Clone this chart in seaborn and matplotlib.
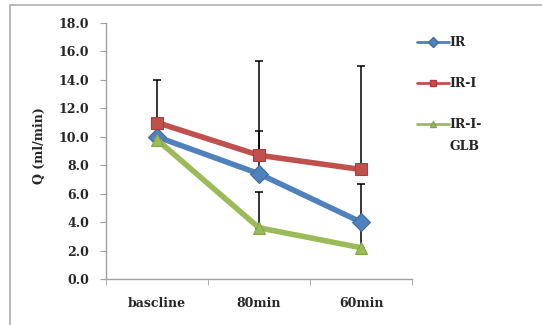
import matplotlib
matplotlib.use('Agg')
import matplotlib.pyplot as plt
from matplotlib.lines import Line2D
from matplotlib.patches import Rectangle
import numpy as np
import pandas as pd
import seaborn as sns

# values
times = ['bascline', '80min', '60min']
groups = ['IR', 'IR-I', 'IR-I-GLB']
ir_vals = [10.0, 7.4, 4.0]
iri_vals = [11.0, 8.7, 7.7]
glb_vals = [9.8, 3.6, 2.2]
ir_err = [0.8, 3.0, 2.7]
iri_err = [3.0, 6.6, 7.3]
glb_err = [0.5, 2.5, 1.8]
legend_labels = ['IR', 'IR-I', 'IR-I-']

colors = {'IR': '#4F81BD', 'IR-I': '#C0504D', 'IR-I-GLB': '#9BBB59'}
edges = {'IR': '#3f6da3', 'IR-I': '#a8403d', 'IR-I-GLB': '#86a646'}
markers = {'IR': 'D', 'IR-I': 's', 'IR-I-GLB': '^'}

df = pd.DataFrame({
    'time': times * 3,
    'group': [g for g in groups for _ in times],
    'Q': ir_vals + iri_vals + glb_vals,
    'err': ir_err + iri_err + glb_err,
})

sns.set_style('white')
plt.rcParams['font.family'] = ['DejaVu Serif']
plt.rcParams['font.weight'] = 'bold'

fig = plt.figure(figsize=(5.42, 3.25), dpi=100)
ax = fig.add_axes([106 / 542, 1 - 279 / 325, 306 / 542, 256 / 325])

# upper error bars, behind the lines
for g in groups:
    sub = df[df['group'] == g]
    ax.errorbar(x=np.arange(3), y=sub['Q'], yerr=[np.zeros(3), sub['err']],
                fmt='none', ecolor='black', elinewidth=1.1, capsize=3,
                capthick=1.1, zorder=1)

sns.lineplot(data=df, x='time', y='Q', hue='group', style='group',
             palette=colors, markers=markers, dashes=False, sort=False,
             linewidth=4, markersize=9, legend=False, ax=ax, zorder=3)
for line, g in zip(ax.get_lines()[-3:], groups):
    line.set_markeredgecolor(edges[g])
    line.set_markeredgewidth(0.8)

ax.set_xlim(-0.5, 2.5)
ax.set_ylim(0, 18)
ax.set_yticks(np.arange(0, 18.1, 2))
ax.set_yticklabels([f'{v:.1f}' for v in np.arange(0, 18.1, 2)])
ax.set_xticks([0, 1, 2])
ax.set_xticklabels(times)
ax.set_xticks([-0.5, 0.5, 1.5, 2.5], minor=True)
ax.tick_params(axis='x', which='major', length=0, pad=13, labelsize=9)
ax.tick_params(axis='x', which='minor', length=4, color='#a0a0a0', direction='out', bottom=True)
ax.tick_params(axis='y', length=4, color='#a0a0a0', direction='out', left=True, labelsize=9, pad=8)
for lab in ax.get_xticklabels() + ax.get_yticklabels():
    lab.set_fontweight('bold')

for s in ['top', 'right']:
    ax.spines[s].set_visible(False)
for s in ['left', 'bottom']:
    ax.spines[s].set_color('#a0a0a0')
    ax.spines[s].set_linewidth(1.0)

ax.set_xlabel('')
ax.set_ylabel('Q (ml/min)', fontsize=9, fontweight='bold')
ax.yaxis.set_label_coords(-0.195, 0.52)

handles = [Line2D([0], [0], color=colors[g], marker=markers[g], markersize=5,
                  markeredgecolor=edges[g], linewidth=2) for g in groups]
fig.legend(handles, legend_labels, loc='upper left', bbox_to_anchor=(406 / 542, 1 - 25 / 325),
           frameon=False, handlelength=2.5, handletextpad=0.1,
           labelspacing=2.25, prop={'weight': 'bold', 'size': 9})
# second line of the last legend label
fig.text(449 / 542, 1 - 147 / 325, 'GLB', fontsize=9, fontweight='bold', va='center', ha='left')

fig.patches.append(Rectangle((10 / 542, -0.05), 1.0, 1 - 5 / 325 + 0.05,
                             transform=fig.transFigure, fill=False,
                             edgecolor='#b0b0b0', linewidth=1.2))

fig.savefig('out.png', dpi=100)
